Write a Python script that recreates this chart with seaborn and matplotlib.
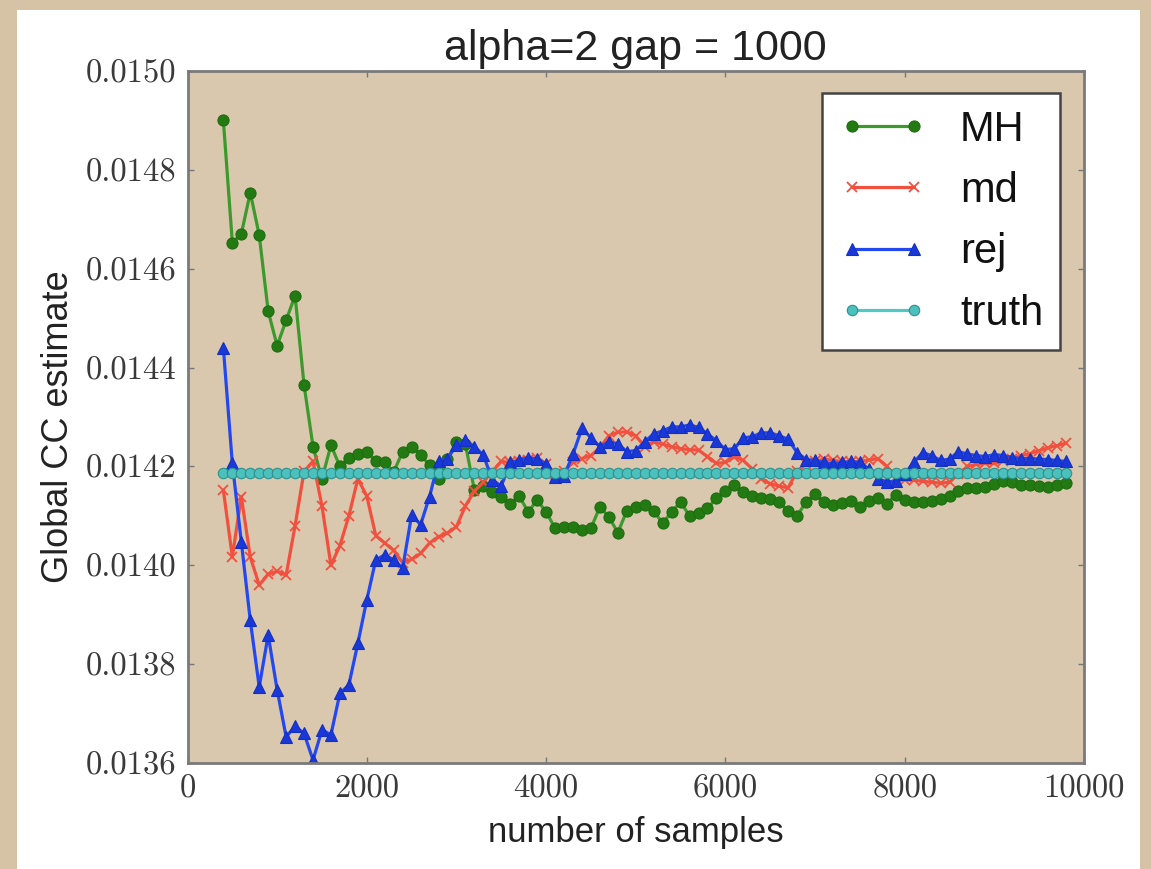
import numpy as np
import pandas as pd
import matplotlib
matplotlib.use("Agg")
import matplotlib.pyplot as plt
from matplotlib.patches import Rectangle
from matplotlib.ticker import FixedLocator, FuncFormatter
import seaborn as sns

# ---------------- data ----------------
samples = list(range(400, 9900, 100))

mh = [0.014900, 0.014653, 0.014670, 0.014754, 0.014668, 0.014514, 0.014444, 0.014496,
      0.014545, 0.014365, 0.014240, 0.014175, 0.014243, 0.014200, 0.014218, 0.014226,
      0.014230, 0.014210, 0.014208, 0.014189, 0.014230, 0.014240, 0.014224, 0.014202,
      0.014175, 0.014215, 0.014250, 0.014245, 0.014152, 0.014160, 0.014148, 0.014139,
      0.014125, 0.014140, 0.014108, 0.014132, 0.014108, 0.014075, 0.014078, 0.014078,
      0.014072, 0.014075, 0.014118, 0.014098, 0.014066, 0.014110, 0.014118, 0.014122,
      0.014110, 0.014085, 0.014108, 0.014128, 0.014100, 0.014106, 0.014115, 0.014136,
      0.014150, 0.014162, 0.014148, 0.014140, 0.014137, 0.014135, 0.014128, 0.014110,
      0.014100, 0.014128, 0.014144, 0.014128, 0.014122, 0.014126, 0.014130, 0.014118,
      0.014130, 0.014136, 0.014125, 0.014142, 0.014132, 0.014129, 0.014129, 0.014130,
      0.014135, 0.014140, 0.014150, 0.014156, 0.014157, 0.014158, 0.014165, 0.014170,
      0.014168, 0.014163, 0.014162, 0.014160, 0.014159, 0.014163, 0.014166]

md = [0.014152, 0.014017, 0.014139, 0.014017, 0.013960, 0.013982, 0.013988, 0.013980,
      0.014080, 0.014190, 0.014210, 0.014120, 0.014000, 0.014040, 0.014100, 0.014175,
      0.014140, 0.014060, 0.014045, 0.014030, 0.014005, 0.014012, 0.014024, 0.014045,
      0.014058, 0.014065, 0.014078, 0.014120, 0.014150, 0.014168, 0.014190, 0.014210,
      0.014208, 0.014210, 0.014213, 0.014218, 0.014205, 0.014185, 0.014190, 0.014208,
      0.014216, 0.014222, 0.014238, 0.014262, 0.014269, 0.014270, 0.014262, 0.014240,
      0.014250, 0.014245, 0.014240, 0.014236, 0.014234, 0.014233, 0.014220, 0.014206,
      0.014208, 0.014220, 0.014212, 0.014195, 0.014175, 0.014165, 0.014160, 0.014157,
      0.014190, 0.014205, 0.014210, 0.014215, 0.014212, 0.014210, 0.014208, 0.014210,
      0.014213, 0.014216, 0.014200, 0.014178, 0.014173, 0.014172, 0.014170, 0.014168,
      0.014166, 0.014168, 0.014185, 0.014200, 0.014204, 0.014206, 0.014206, 0.014210,
      0.014216, 0.014222, 0.014226, 0.014232, 0.014238, 0.014242, 0.014247]

rej = [0.014440, 0.014206, 0.014048, 0.013889, 0.013754, 0.013859, 0.013748, 0.013653,
       0.013674, 0.013660, 0.013606, 0.013667, 0.013657, 0.013741, 0.013758, 0.013842,
       0.013930, 0.014011, 0.014021, 0.014011, 0.013994, 0.014102, 0.014082, 0.014139,
       0.014210, 0.014216, 0.014243, 0.014253, 0.014240, 0.014223, 0.014173, 0.014160,
       0.014208, 0.014213, 0.014218, 0.014215, 0.014205, 0.014178, 0.014180, 0.014225,
       0.014277, 0.014258, 0.014240, 0.014250, 0.014246, 0.014230, 0.014232, 0.014250,
       0.014266, 0.014272, 0.014280, 0.014280, 0.014284, 0.014279, 0.014266, 0.014252,
       0.014234, 0.014236, 0.014258, 0.014260, 0.014268, 0.014268, 0.014262, 0.014255,
       0.014228, 0.014214, 0.014212, 0.014208, 0.014205, 0.014208, 0.014210, 0.014208,
       0.014195, 0.014175, 0.014169, 0.014170, 0.014185, 0.014208, 0.014228, 0.014222,
       0.014212, 0.014215, 0.014230, 0.014225, 0.014222, 0.014220, 0.014224, 0.014222,
       0.014218, 0.014216, 0.014216, 0.014215, 0.014214, 0.014212, 0.014210]

truth_value = 0.014187
truth = [truth_value] * len(samples)

x_ticks = [0, 2000, 4000, 6000, 8000, 10000]
y_ticks = [0.0136, 0.0138, 0.0140, 0.0142, 0.0144, 0.0146, 0.0148, 0.0150]

title_text = "alpha=2 gap = 1000"
x_label = "number of samples"
y_label = "Global CC estimate"

# ---------------- styling ----------------
sns.set_theme(style="ticks")
plt.rcParams['font.family'] = ['Liberation Sans', 'DejaVu Sans']

W, H = 1151, 869
fig = plt.figure(figsize=(W / 100, H / 100), dpi=100, facecolor="#d6c2a4")
fig.patches.append(Rectangle((17 / W, 0), (1140 - 17) / W, (H - 10) / H,
                             transform=fig.transFigure, facecolor="white",
                             edgecolor="none", zorder=-10))

ax = fig.add_axes([187.5 / W, (H - 763) / H, (1084 - 187.5) / W, (763 - 71) / H])
ax.set_facecolor("#d9c8ae")

df = pd.DataFrame({"samples": samples, "MH": mh, "md": md, "rej": rej, "truth": truth})

lw = 2.3
sns.lineplot(data=df, x="samples", y="MH", ax=ax, color="#3c9a2c", linewidth=lw,
             marker="o", markersize=8, markerfacecolor="#237a12",
             markeredgecolor="#1e6e10", markeredgewidth=0.8, label="MH")
sns.lineplot(data=df, x="samples", y="md", ax=ax, color="#f2503f", linewidth=lw,
             marker="x", markersize=7, markeredgecolor="#f2503f",
             markeredgewidth=1.3, label="md")
sns.lineplot(data=df, x="samples", y="rej", ax=ax, color="#2448f0", linewidth=lw,
             marker="^", markersize=8, markerfacecolor="#1a38d8",
             markeredgecolor="#1430c0", markeredgewidth=0.8, label="rej")
sns.lineplot(data=df, x="samples", y="truth", ax=ax, color="#52c8c4", linewidth=lw,
             marker="o", markersize=7.5, markerfacecolor="#4cc0bc",
             markeredgecolor="#2a9290", markeredgewidth=0.8, label="truth")

ax.set_xlim(0, 10000)
ax.set_ylim(0.0136, 0.0150)
ax.xaxis.set_major_locator(FixedLocator(x_ticks))
ax.yaxis.set_major_locator(FixedLocator(y_ticks))
ax.xaxis.set_major_formatter(FuncFormatter(lambda v, p: f"{int(round(v))}"))
ax.yaxis.set_major_formatter(FuncFormatter(lambda v, p: f"{v:.4f}"))

for lab in ax.get_xticklabels() + ax.get_yticklabels():
    lab.set_fontfamily("cmr10")
    lab.set_fontsize(23.5)
    lab.set_color("#3a3a3a")

ax.tick_params(direction="in", length=4, width=1, color="#777777",
               top=True, right=True, pad=8)

for sp in ax.spines.values():
    sp.set_visible(True)
    sp.set_color("#7a7a7a")
    sp.set_linewidth(2)

ax.set_title(title_text, fontsize=31, color="#222222", pad=8)
ax.set_xlabel(x_label, fontsize=25, color="#222222", labelpad=9.5)
ax.set_ylabel(y_label, fontsize=26, color="#222222", labelpad=7)
ax.yaxis.label.set_y(0.4855)

leg = ax.legend(loc="upper right", bbox_to_anchor=(0.973, 0.968), fontsize=30,
                numpoints=2, handlelength=2.1, handletextpad=0.8, labelspacing=0.51,
                borderpad=0.4, fancybox=False, framealpha=1, borderaxespad=0)
leg.get_frame().set_edgecolor("#444444")
leg.get_frame().set_linewidth(1.8)
for t in leg.get_texts():
    t.set_color("#111111")

fig.savefig("out.png", dpi=100, facecolor=fig.get_facecolor())
